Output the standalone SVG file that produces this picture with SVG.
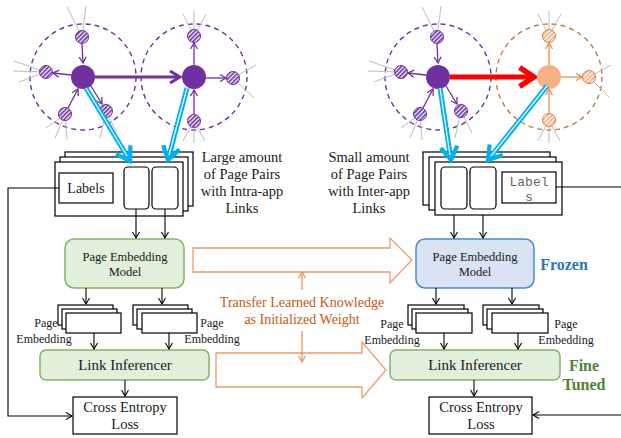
<svg xmlns="http://www.w3.org/2000/svg" width="621" height="438" viewBox="0 0 621 438" font-family="'Liberation Serif', 'DejaVu Serif', serif">
<style>
text{fill:#1a1a1a}
.t15{font-size:14.5px}
.t13{font-size:12.5px}
.t12{font-size:12px}
.box{fill:#fff;stroke:#000;stroke-width:1.2}
.green{fill:#e2efda;stroke:#82b366;stroke-width:1.5}
.blue{fill:#dae3f3;stroke:#4a8ac9;stroke-width:1.5}
.ln{stroke:#000;stroke-width:1.1;fill:none}
.gray{stroke:#bdbdbd;stroke-width:1;fill:none}
.pdash{stroke:#7030a0;stroke-width:1.4;fill:none;stroke-dasharray:5 4}
.odash{stroke:#c57b45;stroke-width:1.4;fill:none;stroke-dasharray:5 4}
.parr{stroke:#7030a0;stroke-width:1.3;fill:none}
.oarr{stroke:#ed8d50;stroke-width:1.3;fill:none}
.hollow{fill:#fff;stroke:#ed9c6a;stroke-width:1.3}
.cyan{stroke:#00b0f0;stroke-width:5;fill:none}
.cyanw{stroke:#e6f8ff;stroke-width:1.3;fill:none}
</style>
<defs>
<pattern id="hp" patternUnits="userSpaceOnUse" width="3" height="3" patternTransform="rotate(45)"><rect width="3" height="3" fill="#fff"/><rect width="1.7" height="3" fill="#7030a0"/></pattern>
<pattern id="ho" patternUnits="userSpaceOnUse" width="3" height="3" patternTransform="rotate(45)"><rect width="3" height="3" fill="#fff"/><rect width="1.5" height="3" fill="#f4a46e"/></pattern>
<marker id="ab" markerUnits="userSpaceOnUse" markerWidth="12" markerHeight="12" refX="0" refY="0" viewBox="-7 -6 8 12" orient="auto"><path d="M-6,-3.5 L0,0 L-6,3.5" fill="none" stroke="#000" stroke-width="1.1"/></marker>
<marker id="ap" markerUnits="userSpaceOnUse" markerWidth="12" markerHeight="12" refX="0" refY="0" viewBox="-7 -6 8 12" orient="auto"><path d="M-6,-3.5 L0,0 L-6,3.5" fill="none" stroke="#7030a0" stroke-width="1.3"/></marker>
<marker id="apb" markerUnits="userSpaceOnUse" markerWidth="18" markerHeight="18" refX="0" refY="0" viewBox="-12 -9 13 18" orient="auto"><path d="M-10,-6 L0,0 L-10,6" fill="none" stroke="#7030a0" stroke-width="3"/></marker>
<marker id="ao" markerUnits="userSpaceOnUse" markerWidth="12" markerHeight="12" refX="0" refY="0" viewBox="-7 -6 8 12" orient="auto"><path d="M-6,-3.5 L0,0 L-6,3.5" fill="none" stroke="#ed8d50" stroke-width="1.3"/></marker>
<marker id="ar" markerUnits="userSpaceOnUse" markerWidth="24" markerHeight="24" refX="0" refY="0" viewBox="-14 -10 16 20" orient="auto"><path d="M-12,-8 L0,0 L-12,8" fill="none" stroke="#ff0000" stroke-width="4.5" stroke-linejoin="miter"/></marker>
<marker id="ac" markerUnits="userSpaceOnUse" markerWidth="24" markerHeight="24" refX="0" refY="0" viewBox="-14 -10 16 20" orient="auto"><path d="M-11,-7 L0,0 L-11,7" fill="none" stroke="#00b0f0" stroke-width="3.5"/></marker>
<marker id="ath" markerUnits="userSpaceOnUse" markerWidth="12" markerHeight="12" refX="0" refY="0" viewBox="-7 -6 8 12" orient="auto"><path d="M-6,-3.5 L0,0 L-6,3.5" fill="none" stroke="#ed8d50" stroke-width="1.2"/></marker>
</defs>

<!-- Left graph -->
<g id="graph-left">
  <circle class="pdash" cx="83" cy="77" r="53"/>
  <circle class="pdash" cx="194" cy="77" r="53"/>
  <g class="gray">
    <path d="M82,37 L67,7 M82,37 L86,6"/>
    <path d="M46,72 L14,61 M46,72 L13,71 M46,72 L19,82"/>
    <path d="M65,114 L46,128 M65,114 L55,138 M65,114 L67,140"/>
    <path d="M106,111 L100,138 M106,111 L117,133"/>
    <path d="M194,36 L183,14 M194,36 L194,11 M194,36 L206,14"/>
    <path d="M233,78 L256,65 M233,78 L254,98"/>
    <path d="M194,121 L183,141 M194,121 L194,143 M194,121 L205,141"/>
  </g>
  <path class="parr" d="M82,44 L83,63" marker-end="url(#ap)"/>
  <path class="parr" d="M71,75 L53,73" marker-end="url(#ap)"/>
  <path class="parr" d="M68,108 L78,89" marker-end="url(#ap)"/>
  <path class="parr" d="M91,86 L102,104" marker-end="url(#ap)"/>
  <path class="parr" d="M194,65 L194,43" marker-end="url(#ap)"/>
  <path class="parr" d="M206,78 L226,78" marker-end="url(#ap)"/>
  <path class="parr" d="M194,114 L194,90" marker-end="url(#ap)"/>
  <path d="M95,77 L180,77" stroke="#7030a0" stroke-width="2.8" fill="none" marker-end="url(#apb)"/>
  <g fill="url(#hp)" stroke="#7030a0" stroke-width="1">
    <circle cx="82" cy="37" r="6.5"/>
    <circle cx="46" cy="72" r="6.5"/>
    <circle cx="65" cy="114" r="6.5"/>
    <circle cx="106" cy="111" r="6.5"/>
    <circle cx="194" cy="36" r="6.5"/>
    <circle cx="233" cy="78" r="6.5"/>
    <circle cx="194" cy="121" r="6.5"/>
  </g>
  <circle cx="83" cy="77" r="12" fill="#7030a0"/>
  <circle cx="194" cy="77" r="12" fill="#7030a0"/>
</g>

<!-- Right graph -->
<g id="graph-right">
  <circle class="pdash" cx="438" cy="77" r="53"/>
  <circle class="odash" cx="549" cy="77" r="53"/>
  <g class="gray">
    <path d="M437,37 L422,7 M437,37 L441,6"/>
    <path d="M401,72 L369,61 M401,72 L368,71 M401,72 L374,82"/>
    <path d="M420,114 L401,128 M420,114 L410,138 M420,114 L422,140"/>
    <path d="M461,111 L455,138 M461,111 L472,133"/>
    <path d="M549,36 L538,14 M549,36 L549,11 M549,36 L561,14"/>
    <path d="M589,77 L611,65 M589,77 L609,97"/>
    <path d="M549,120 L538,141 M549,120 L549,143 M549,120 L560,141"/>
  </g>
  <path class="parr" d="M437,44 L438,63" marker-end="url(#ap)"/>
  <path class="parr" d="M426,75 L408,73" marker-end="url(#ap)"/>
  <path class="parr" d="M423,108 L433,89" marker-end="url(#ap)"/>
  <path class="parr" d="M446,86 L457,104" marker-end="url(#ap)"/>
  <path class="oarr" d="M549,65 L549,43" marker-end="url(#ao)"/>
  <path class="oarr" d="M561,77 L582,77" marker-end="url(#ao)"/>
  <path class="oarr" d="M549,113 L549,89" marker-end="url(#ao)"/>
  <path d="M450,77 L534,77" stroke="#ff0000" stroke-width="5" fill="none" marker-end="url(#ar)"/>
  <g fill="url(#hp)" stroke="#7030a0" stroke-width="1">
    <circle cx="437" cy="37" r="6.5"/>
    <circle cx="401" cy="72" r="6.5"/>
    <circle cx="420" cy="114" r="6.5"/>
    <circle cx="461" cy="111" r="6.5"/>
  </g>
  <g fill="url(#ho)" stroke="#e0793a" stroke-width="1">
    <circle cx="549" cy="36" r="6.5"/>
    <circle cx="589" cy="77" r="6.5"/>
    <circle cx="549" cy="120" r="6.5"/>
  </g>
  <circle cx="438" cy="77" r="12" fill="#7030a0"/>
  <circle cx="549" cy="77" r="12" fill="#f4b183"/>
</g>

<!-- Left page pair stack -->
<g id="pairs-left">
  <rect class="box" x="65" y="152" width="128" height="54"/>
  <rect class="box" x="60" y="157" width="128" height="54"/>
  <rect class="box" x="55" y="162" width="128" height="54"/>
  <rect class="box" x="59" y="173" width="54" height="30"/>
  <text x="86" y="193" text-anchor="middle" font-size="14">Labels</text>
  <rect class="box" x="124" y="167" width="25" height="42" rx="4"/>
  <rect class="box" x="152" y="167" width="26" height="42" rx="4"/>
</g>
<g id="desc-left">
  <text class="t15" text-anchor="middle"><tspan x="242" y="162">Large amount</tspan><tspan x="242" y="179">of Page Pairs</tspan><tspan x="242" y="196">with Intra-app</tspan><tspan x="242" y="213">Links</tspan></text>
</g>

<!-- Right page pair stack -->
<g id="pairs-right">
  <rect class="box" x="423" y="152" width="127" height="53"/>
  <rect class="box" x="429" y="157" width="127" height="53"/>
  <rect class="box" x="435" y="162" width="127" height="53"/>
  <rect class="box" x="441" y="167" width="26" height="42" rx="4"/>
  <rect class="box" x="470" y="167" width="26" height="42" rx="4"/>
  <rect class="box" x="502" y="172" width="54" height="31"/>
  <text x="529" y="186" text-anchor="middle" font-family="'Liberation Mono', 'Courier New', monospace" font-size="13" style="fill:#666">Label</text>
  <text x="529" y="201" text-anchor="middle" font-family="'Liberation Mono', 'Courier New', monospace" font-size="13" style="fill:#666">s</text>
</g>
<g id="desc-right">
  <text class="t15" text-anchor="middle"><tspan x="369" y="162">Small amount</tspan><tspan x="369" y="179">of Page Pairs</tspan><tspan x="369" y="196">with Inter-app</tspan><tspan x="369" y="213">Links</tspan></text>
</g>

<!-- Page Embedding Models -->
<g id="pem-left">
  <rect class="green" x="65" y="239" width="119" height="49" rx="9"/>
  <text class="t13" text-anchor="middle"><tspan x="125" y="261">Page Embedding</tspan><tspan x="125" y="276">Model</tspan></text>
</g>
<g id="pem-right">
  <rect class="blue" x="416" y="239" width="118" height="49" rx="9"/>
  <text class="t13" text-anchor="middle"><tspan x="475" y="261">Page Embedding</tspan><tspan x="475" y="276">Model</tspan></text>
</g>
<g id="frozen"><text x="564" y="270" text-anchor="middle" font-size="16" font-weight="bold" style="fill:#2e75b6">Frozen</text></g>

<!-- Embedding stacks -->
<g id="emb-left-1">
  <rect class="box" x="58" y="305" width="55" height="20"/>
  <rect class="box" x="62" y="309" width="55" height="20"/>
  <rect class="box" x="66" y="313" width="55" height="20"/>
  <text class="t12" text-anchor="middle"><tspan x="46" y="327">Page</tspan><tspan x="44" y="343">Embedding</tspan></text>
</g>
<g id="emb-left-2">
  <rect class="box" x="133" y="305" width="55" height="20"/>
  <rect class="box" x="137" y="309" width="55" height="20"/>
  <rect class="box" x="142" y="313" width="55" height="20"/>
  <text class="t12" text-anchor="middle"><tspan x="212" y="327">Page</tspan><tspan x="212" y="343">Embedding</tspan></text>
</g>
<g id="emb-right-1">
  <rect class="box" x="408" y="305" width="56" height="20"/>
  <rect class="box" x="412" y="309" width="56" height="20"/>
  <rect class="box" x="416" y="313" width="56" height="20"/>
  <text class="t12" text-anchor="middle"><tspan x="392" y="328">Page</tspan><tspan x="392" y="344">Embedding</tspan></text>
</g>
<g id="emb-right-2">
  <rect class="box" x="483" y="305" width="56" height="20"/>
  <rect class="box" x="487" y="309" width="56" height="20"/>
  <rect class="box" x="492" y="313" width="56" height="20"/>
  <text class="t12" text-anchor="middle"><tspan x="566" y="328">Page</tspan><tspan x="566" y="344">Embedding</tspan></text>
</g>

<!-- Link Inferencers -->
<g id="li-left">
  <rect class="green" x="40" y="350" width="169" height="30" rx="6"/>
  <text x="125" y="370" text-anchor="middle" font-size="15">Link Inferencer</text>
</g>
<g id="li-right">
  <rect class="green" x="390" y="350" width="170" height="30" rx="6"/>
  <text x="475" y="370" text-anchor="middle" font-size="15">Link Inferencer</text>
</g>
<g id="finetuned"><text text-anchor="middle" font-size="16" font-weight="bold" style="fill:#548235"><tspan x="584" y="371">Fine</tspan><tspan x="584" y="390">Tuned</tspan></text></g>

<!-- Losses -->
<g id="loss-left">
  <rect class="box" x="73" y="397" width="104" height="37"/>
  <text class="t15" text-anchor="middle"><tspan x="125" y="412">Cross Entropy</tspan><tspan x="125" y="429">Loss</tspan></text>
</g>
<g id="loss-right">
  <rect class="box" x="429" y="397" width="103" height="37"/>
  <text class="t15" text-anchor="middle"><tspan x="481" y="412">Cross Entropy</tspan><tspan x="481" y="429">Loss</tspan></text>
</g>

<!-- Transfer -->
<g id="transfer">
  <path class="hollow" d="M193,248 L390,248 L390,238 L412,260 L390,283 L390,272 L193,272 Z"/>
  <path class="hollow" d="M216,353 L362,353 L362,342 L386,370 L362,398 L362,387 L216,387 Z"/>
  <text text-anchor="middle" font-size="14" style="fill:#c55a11"><tspan x="302" y="307">Transfer Learned Knowledge</tspan><tspan x="302" y="324">as Initialized Weight</tspan></text>
  <path d="M302,290 L302,272" stroke="#ed8d50" stroke-width="1.2" fill="none" marker-end="url(#ath)"/>
  <path d="M302,331 L302,362" stroke="#ed8d50" stroke-width="1.2" fill="none" marker-end="url(#ath)"/>
</g>

<!-- Connectors -->
<g id="connectors">
  <path class="cyan" d="M86,88 L130,161" marker-end="url(#ac)"/>
  <path class="cyanw" d="M86,88 L127,156"/>
  <path class="cyan" d="M187,88 L168,160" marker-end="url(#ac)"/>
  <path class="cyanw" d="M187,88 L169,155"/>
  <path class="cyan" d="M440,88 L451,160" marker-end="url(#ac)"/>
  <path class="cyanw" d="M440,88 L450,155"/>
  <path class="cyan" d="M547,86 L488,160" marker-end="url(#ac)"/>
  <path class="cyanw" d="M547,86 L491,156"/>

  <path class="ln" d="M136,209 L136,238" marker-end="url(#ab)"/>
  <path class="ln" d="M165,209 L165,238" marker-end="url(#ab)"/>
  <path class="ln" d="M454,215 L454,238" marker-end="url(#ab)"/>
  <path class="ln" d="M483,215 L483,238" marker-end="url(#ab)"/>

  <path class="ln" d="M86,288 L86,304" marker-end="url(#ab)"/>
  <path class="ln" d="M162,288 L162,304" marker-end="url(#ab)"/>
  <path class="ln" d="M436,288 L436,304" marker-end="url(#ab)"/>
  <path class="ln" d="M512,288 L512,304" marker-end="url(#ab)"/>

  <path class="ln" d="M94,333 L94,349" marker-end="url(#ab)"/>
  <path class="ln" d="M169,333 L169,349" marker-end="url(#ab)"/>
  <path class="ln" d="M444,333 L444,349" marker-end="url(#ab)"/>
  <path class="ln" d="M518,333 L518,349" marker-end="url(#ab)"/>

  <path class="ln" d="M125,380 L125,396" marker-end="url(#ab)"/>
  <path class="ln" d="M474,380 L474,396" marker-end="url(#ab)"/>

  <path class="ln" d="M59,188 L8,188 L8,416 L72,416" marker-end="url(#ab)"/>
  <path class="ln" d="M556,187 L621,187"/>
  <path class="ln" d="M621,415 L533,415" marker-end="url(#ab)"/>
</g>
</svg>
